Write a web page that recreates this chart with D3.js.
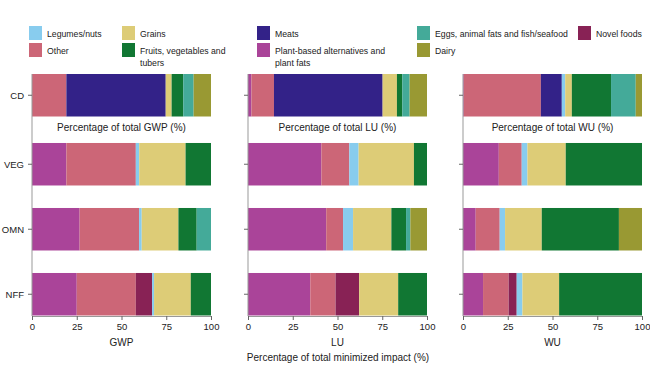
<!DOCTYPE html>
<html lang="en">
<head>
  <meta charset="UTF-8">
  <title>Percentage of total minimized impact</title>
  <script src="https://d3js.org/d3.v7.min.js"></script>
  <style>
    body { margin: 0; background: #fff; }
    svg text { font-family: "Liberation Sans", Arial, sans-serif; fill: #222; }
  </style>
</head>
<body>
<div id="chart"></div>
<script>
// diets (rows) and impact metrics (panels)
const diets = ["CD", "VEG", "OMN", "NFF"];
const metrics = ["GWP", "LU", "WU"];

// stacking order of the food groups, left to right
const foods = ["Plant-based alternatives and plant fats", "Other", "Meats", "Novel foods",
  "Legumes/nuts", "Grains", "Fruits, vegetables and tubers",
  "Eggs, animal fats and fish/seafood", "Dairy"];
const foodColors = ["#AA4499", "#CC6677", "#332288", "#882255",
  "#88CCEE", "#DDCC77", "#117733", "#44AA99", "#999933"];

// one row per diet, values in the order of `foods` (% of total)
const gwp = [
  [0, 19.2, 55.5, 0, 0, 3.3, 6.5, 5.8, 9.7],
  [19.2, 38.8, 0, 0, 1.9, 25.9, 14.2, 0, 0],
  [26.6, 33.2, 0, 0, 1.5, 20.5, 10.2, 8.0, 0],
  [25.0, 33.0, 0, 9.1, 1.1, 20.5, 11.3, 0, 0]
];
const lu = [
  [1.9, 12.6, 60.7, 0, 0, 8.0, 3.0, 4.1, 9.7],
  [41.0, 15.6, 0, 0, 5.2, 30.9, 7.3, 0, 0],
  [43.7, 9.4, 0, 0, 5.6, 21.4, 8.2, 2.4, 9.3],
  [34.8, 14.1, 0, 13.2, 0, 21.8, 16.1, 0, 0]
];
const wu = [
  [0.4, 43.1, 11.7, 0, 1.9, 3.7, 21.9, 13.8, 3.5],
  [20.0, 12.8, 0, 0, 3.2, 21.4, 42.6, 0, 0],
  [7.1, 13.4, 0, 0, 3.0, 20.5, 43.1, 0, 12.9],
  [11.2, 14.3, 0, 4.5, 3.2, 20.5, 46.3, 0, 0]
];
const panelValues = [gwp, lu, wu];
const xTicks = [0, 25, 50, 75, 100];

// legend layout: columns of food groups
const legendColumns = [
  ["Legumes/nuts", "Other"],
  ["Grains", "Fruits, vegetables and tubers"],
  ["Meats", "Plant-based alternatives and plant fats"],
  ["Eggs, animal fats and fish/seafood", "Dairy"],
  ["Novel foods"]
];
const legendWrap = {
  "Fruits, vegetables and tubers": ["Fruits, vegetables and", "tubers"],
  "Plant-based alternatives and plant fats": ["Plant-based alternatives and", "plant fats"]
};

const width = 650, height = 391;
const svg = d3.select("#chart").append("svg")
  .attr("width", width)
  .attr("height", height);

const color = d3.scaleOrdinal().domain(foods).range(foodColors);

const panelLeft = [32, 248, 463];
const panelWidth = 179;

// rows: CD sits alone on top, the others share a band scale
const yTop = d3.scaleBand().domain(["CD"]).range([74, 116]);
const yRest = d3.scaleBand().domain(diets.slice(1)).range([132, 327]).paddingInner(0.338).paddingOuter(0.169);
const yPos = d => d === "CD" ? yTop(d) : yRest(d);
const barH = 42.5;

const stack = d3.stack().keys(d3.range(foods.length));

metrics.forEach((m, i) => {
  const x0 = panelLeft[i];
  const x = d3.scaleLinear().domain([0, 100]).range([x0, x0 + panelWidth]);
  const g = svg.append("g");

  const series = stack(panelValues[i]);
  g.selectAll("g.series")
    .data(series)
    .join("g")
    .attr("fill", s => foodColors[s.key])
    .selectAll("rect")
    .data(s => s.map((v, j) => ({ v, diet: diets[j] })))
    .join("rect")
    .attr("x", d => x(d.v[0]))
    .attr("y", d => yPos(d.diet))
    .attr("width", d => Math.max(0, x(d.v[1]) - x(d.v[0])))
    .attr("height", barH);

  // y axis: full-height line with ticks
  const yAxisG = g.append("g").attr("transform", `translate(${x0},0)`);
  yAxisG.append("line")
    .attr("y1", 74).attr("y2", 316)
    .attr("stroke", "#999").attr("stroke-width", 1);
  diets.forEach(d => {
    const cy = yPos(d) + barH / 2;
    yAxisG.append("line")
      .attr("x1", -4).attr("x2", 0)
      .attr("y1", cy).attr("y2", cy)
      .attr("stroke", "#666");
    if (i === 0) {
      yAxisG.append("text")
        .attr("x", -8).attr("y", cy)
        .attr("dy", "0.35em")
        .attr("text-anchor", "end")
        .style("font-size", "9.5px")
        .text(d);
    }
  });

  // x axis
  const xAxis = d3.axisBottom(x).tickValues(xTicks).tickSize(4).tickPadding(3);
  const xg = g.append("g").attr("transform", "translate(0,316)").call(xAxis);
  xg.select(".domain").attr("stroke", "#999");
  xg.selectAll(".tick line").attr("stroke", "#666");
  xg.selectAll(".tick text").style("font-size", "9.5px").attr("fill", "#222");

  g.append("text")
    .attr("x", x(50)).attr("y", 342)
    .attr("dy", "0.35em")
    .attr("text-anchor", "middle")
    .style("font-size", "10px")
    .text(m);

  // subtitle between CD and the other rows
  g.append("text")
    .attr("x", x(50)).attr("y", 127)
    .attr("dy", "0.35em")
    .attr("text-anchor", "middle")
    .style("font-size", "10px")
    .text(`Percentage of total ${m} (%)`);
});

svg.append("text")
  .attr("x", 338).attr("y", 357)
  .attr("dy", "0.35em")
  .attr("text-anchor", "middle")
  .style("font-size", "10px")
  .text("Percentage of total minimized impact (%)");

// legend
const legendX = [29, 122, 257, 417, 578];
const legendY = [26, 43];
legendColumns.forEach((col, ci) => {
  col.forEach((name, ri) => {
    const lg = svg.append("g").attr("transform", `translate(${legendX[ci]},${legendY[ri]})`);
    lg.append("rect")
      .attr("width", 13).attr("height", 14)
      .attr("fill", color(name));
    const lines = legendWrap[name] || [name];
    lines.forEach((t, li) => {
      lg.append("text")
        .attr("x", 18).attr("y", 8 + li * 12)
        .attr("dy", "0.35em")
        .style("font-size", "8.7px")
        .text(t);
    });
  });
});
</script>
</body>
</html>
